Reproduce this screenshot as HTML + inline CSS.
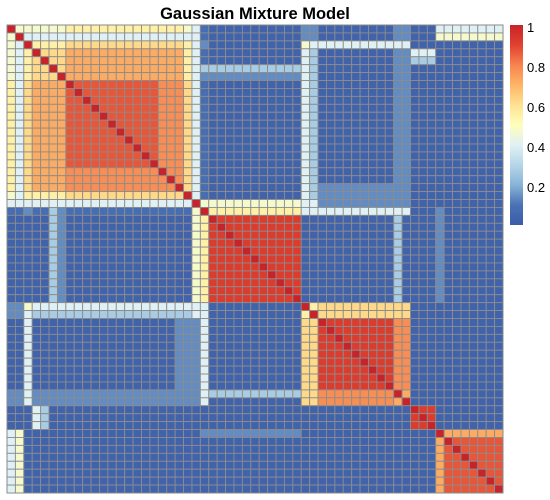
<!DOCTYPE html>
<html><head><meta charset="utf-8"><style>
html,body{margin:0;padding:0;background:#fff;}
svg{display:block;font-family:"Liberation Sans",Arial,sans-serif;}
</style></head><body>
<svg id="chart" width="550" height="500" viewBox="0 0 550 500" xmlns="http://www.w3.org/2000/svg">
<text x="255" y="19" text-anchor="middle" font-size="16.5" font-weight="bold" fill="#000">Gaussian Mixture Model</text>
<g id="cells"></g>
<rect x="7" y="25" width="496" height="468" fill="none" stroke="#8a8a8a" stroke-width="1"/>
<defs><linearGradient id="lg" x1="0" y1="1" x2="0" y2="0"></linearGradient></defs>
<rect x="510" y="25" width="13" height="200" fill="url(#lg)"/>
<g id="legend"></g>
</svg>
<script>
// value codes per cell (spaces are ignored)
const codeValues = {'0':0.03,'1':0.08,'2':0.14,'3':0.27,'4':0.4,'5':0.47,'6':0.55,'7':0.62,'8':0.72,'9':0.78,'A':0.87,'B':0.92,'C':1.0};
const matrixRows = [
"C555555 66666666666 666 5 4 1 00000000000 22 000000000 22 000 44444444",
"5C44444 44444444444 444 4 4 1 00000000000 22 000000000 22 000 55555555",
"54C6666 77777777777 777 6 4 2 00000000000 54 444444444 44 000 00000000",
"546C777 88888888888 888 6 4 1 00000000000 43 000000000 22 444 00000000",
"5467C77 88888888888 888 6 4 1 00000000000 43 000000000 22 333 00000000",
"54677C7 88888888888 888 6 4 3 33333333333 43 000000000 22 000 00000000",
"546777C 88888888888 888 6 4 2 22222222222 43 000000000 22 000 00000000",
"6478888 CAAAAAAAAAA 999 7 4 1 00000000000 43 000000000 22 000 00000000",
"6478888 ACAAAAAAAAA 999 7 4 1 00000000000 43 000000000 22 000 00000000",
"6478888 AACAAAAAAAA 999 7 4 1 00000000000 43 000000000 22 000 00000000",
"6478888 AAACAAAAAAA 999 7 4 1 00000000000 43 000000000 22 000 00000000",
"6478888 AAAACAAAAAA 999 7 4 1 00000000000 43 000000000 22 000 00000000",
"6478888 AAAAACAAAAA 999 7 4 1 00000000000 43 000000000 22 000 00000000",
"6478888 AAAAAACAAAA 999 7 4 1 00000000000 43 000000000 22 000 00000000",
"6478888 AAAAAAACAAA 999 7 4 1 00000000000 43 000000000 22 000 00000000",
"6478888 AAAAAAAACAA 999 7 4 1 00000000000 43 000000000 22 000 00000000",
"6478888 AAAAAAAAACA 999 7 4 1 00000000000 43 000000000 22 000 00000000",
"6478888 AAAAAAAAAAC 999 7 4 1 00000000000 43 000000000 22 000 00000000",
"6478888 99999999999 C99 7 4 1 00000000000 43 000000000 22 000 00000000",
"6478888 99999999999 9C9 7 4 1 00000000000 43 000000000 22 000 00000000",
"6478888 99999999999 99C 7 4 1 00000000000 43 222222222 22 000 00000000",
"5466666 77777777777 777 C 4 1 00000000000 43 222222222 22 000 00000000",
"4444444 44444444444 444 4 C 5 55555555555 44 222222222 22 000 00000000",
"1121132 11111111111 111 1 5 C 66666666666 44 444444444 44 000 20000000",
"0000032 00000000000 000 0 5 6 CBBBBBBBBBB 00 000000000 30 000 20000000",
"0000032 00000000000 000 0 5 6 BCBBBBBBBBB 00 000000000 30 000 20000000",
"0000032 00000000000 000 0 5 6 BBCBBBBBBBB 00 000000000 30 000 20000000",
"0000032 00000000000 000 0 5 6 BBBCBBBBBBB 00 000000000 30 000 20000000",
"0000032 00000000000 000 0 5 6 BBBBCBBBBBB 00 000000000 30 000 20000000",
"0000032 00000000000 000 0 5 6 BBBBBCBBBBB 00 000000000 30 000 20000000",
"0000032 00000000000 000 0 5 6 BBBBBBCBBBB 00 000000000 30 000 20000000",
"0000032 00000000000 000 0 5 6 BBBBBBBCBBB 00 000000000 30 000 20000000",
"0000032 00000000000 000 0 5 6 BBBBBBBBCBB 00 000000000 30 000 20000000",
"0000032 00000000000 000 0 5 6 BBBBBBBBBCB 00 000000000 30 000 20000000",
"0000032 00000000000 000 0 5 6 BBBBBBBBBBC 00 000000000 30 000 20000000",
"2254444 44444444444 444 4 4 4 00000000000 C6 777777777 77 000 00000000",
"2243333 33333333333 333 3 4 4 00000000000 6C 777777777 77 000 00000000",
"0040000 00000000000 002 2 2 4 00000000000 77 CBBBBBBBB 99 000 00000000",
"0040000 00000000000 002 2 2 4 00000000000 77 BCBBBBBBB 99 000 00000000",
"0040000 00000000000 002 2 2 4 00000000000 77 BBCBBBBBB 99 000 00000000",
"0040000 00000000000 002 2 2 4 00000000000 77 BBBCBBBBB 99 000 00000000",
"0040000 00000000000 002 2 2 4 00000000000 77 BBBBCBBBB 99 000 00000000",
"0040000 00000000000 002 2 2 4 00000000000 77 BBBBBCBBB 99 000 00000000",
"0040000 00000000000 002 2 2 4 00000000000 77 BBBBBBCBB 99 000 00000000",
"0040000 00000000000 002 2 2 4 00000000000 77 BBBBBBBCB 99 000 00000000",
"0040000 00000000000 002 2 2 4 00000000000 77 BBBBBBBBC 99 000 00000000",
"2242222 22222222222 222 2 2 4 33333333333 77 999999999 C8 000 00000000",
"2242222 22222222222 222 2 2 4 00000000000 77 999999999 8C 000 00000000",
"0004300 00000000000 000 0 0 0 00000000000 00 000000000 00 CBB 00000000",
"0004300 00000000000 000 0 0 0 00000000000 00 000000000 00 BCB 00000000",
"0004300 00000000000 000 0 0 0 00000000000 00 000000000 00 BBC 00000000",
"4500000 00000000000 000 0 0 2 22222222222 00 000000000 00 000 C8888888",
"4500000 00000000000 000 0 0 0 00000000000 00 000000000 00 000 8CAAAAAA",
"4500000 00000000000 000 0 0 0 00000000000 00 000000000 00 000 8ACAAAAA",
"4500000 00000000000 000 0 0 0 00000000000 00 000000000 00 000 8AACAAAA",
"4500000 00000000000 000 0 0 0 00000000000 00 000000000 00 000 8AAACAAA",
"4500000 00000000000 000 0 0 0 00000000000 00 000000000 00 000 8AAAACAA",
"4500000 00000000000 000 0 0 0 00000000000 00 000000000 00 000 8AAAAACA",
"4500000 00000000000 000 0 0 0 00000000000 00 000000000 00 000 8AAAAAAC"
];
const legendTicks = [0.2, 0.4, 0.6, 0.8, 1];
const legendLabels = ["0.2", "0.4", "0.6", "0.8", "1"];

const colorStops = [[0,'#3b5ca8'],[0.1,'#4a72b5'],[0.2,'#88b3d6'],[0.3,'#b5d6e8'],[0.4,'#e0f1f5'],[0.5,'#fefebd'],[0.6,'#fee291'],[0.7,'#fdb567'],[0.8,'#f7844f'],[0.9,'#e0422f'],[1,'#c8232a']];
function hex2rgb(h){return [parseInt(h.slice(1,3),16),parseInt(h.slice(3,5),16),parseInt(h.slice(5,7),16)];}
function colorOf(v){
  v=Math.max(0,Math.min(1,v));
  for(let i=1;i<colorStops.length;i++){
    if(v<=colorStops[i][0]){
      const a=colorStops[i-1],b=colorStops[i];
      const t=(v-a[0])/(b[0]-a[0]);
      const ca=hex2rgb(a[1]),cb=hex2rgb(b[1]);
      return 'rgb('+ca.map((c,k)=>Math.round(c+(cb[k]-c)*t)).join(',')+')';
    }
  }
  return colorStops[colorStops.length-1][1];
}
const NS='http://www.w3.org/2000/svg';
const rows = matrixRows.map(r=>r.replace(/\s+/g,''));
const N = rows.length;
const X0=7, Y0=25, W=496, H=468;
const xPos = c => X0 + c*W/N;
const yPos = r => Y0 + r*H/N;
const g=document.getElementById('cells');
for(let r=0;r<N;r++){
  for(let c=0;c<N;c++){
    const ch=rows[r][c]||'0';
    const v=codeValues[ch]!==undefined?codeValues[ch]:0.03;
    const rect=document.createElementNS(NS,'rect');
    rect.setAttribute('x',xPos(c));
    rect.setAttribute('y',yPos(r));
    rect.setAttribute('width',W/N);
    rect.setAttribute('height',H/N);
    rect.setAttribute('fill',colorOf(v));
    rect.setAttribute('stroke','#8c8c8c');
    rect.setAttribute('stroke-width','0.9');
    
    
    g.appendChild(rect);
  }
}
// legend gradient
const lg=document.getElementById('lg');
colorStops.forEach(s=>{
  const st=document.createElementNS(NS,'stop');
  st.setAttribute('offset',(s[0]*100)+'%');
  st.setAttribute('stop-color',s[1]);
  lg.appendChild(st);
});
const leg=document.getElementById('legend');
const legY = v => 227 - 200*v;
legendTicks.forEach((t,i)=>{
  const tx=document.createElementNS(NS,'text');
  tx.setAttribute('x',527);
  tx.setAttribute('y',legY(t)+5);
  tx.setAttribute('font-size','13');
  tx.setAttribute('fill','#000');
  tx.textContent=legendLabels[i];
  
  
  leg.appendChild(tx);
});
</script>
</body></html>
